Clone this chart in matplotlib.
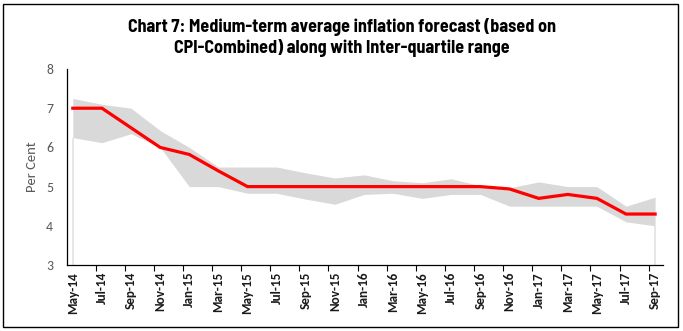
import matplotlib.pyplot as plt
from matplotlib import font_manager
from matplotlib.patches import Rectangle
from matplotlib.ticker import FixedLocator, NullFormatter

# survey rounds (bi-monthly)
months = ['May-14', 'Jul-14', 'Sep-14', 'Nov-14', 'Jan-15', 'Mar-15', 'May-15',
          'Jul-15', 'Sep-15', 'Nov-15', 'Jan-16', 'Mar-16', 'May-16', 'Jul-16',
          'Sep-16', 'Nov-16', 'Jan-17', 'Mar-17', 'May-17', 'Jul-17', 'Sep-17']

# medium-term average forecast (median)
forecast = [7.0, 7.0, 6.5, 6.0, 5.82, 5.4, 5.0, 5.0, 5.0, 5.0, 5.0,
            5.0, 5.0, 5.0, 5.0, 4.94, 4.7, 4.8, 4.7, 4.3, 4.3]

# inter-quartile range
upper_q = [7.25, 7.1, 7.0, 6.43, 6.0, 5.5, 5.5, 5.5, 5.35, 5.22, 5.3,
           5.15, 5.1, 5.2, 5.02, 4.97, 5.12, 5.0, 5.0, 4.5, 4.73]
lower_q = [6.25, 6.12, 6.35, 6.0, 5.0, 5.0, 4.83, 4.83, 4.68, 4.55, 4.8,
           4.83, 4.7, 4.8, 4.8, 4.5, 4.5, 4.5, 4.5, 4.1, 4.0]

x = list(range(len(months)))

# pick a narrow bold font for the Arial-Narrow look, and a Calibri-like one
have = {f.name for f in font_manager.fontManager.ttflist}
narrow = next((n for n in ['Liberation Sans Narrow', 'Barlow Semi Condensed', 'Liberation Sans']
               if n in have), 'DejaVu Sans')
calib = next((n for n in ['Carlito', 'Lato'] if n in have), 'DejaVu Sans')

fig = plt.figure(figsize=(6.83, 3.31), dpi=100)
ax = fig.add_axes([0.0981, 0.1994, 0.8726, 0.5921])

ax.fill_between(x, lower_q, upper_q, color='#d9d9d9', lw=0)
# faint edges of the area series
ax.vlines([x[0], x[-1]], 3, [lower_q[0], lower_q[-1]], color='#e3e3e3', lw=1.2)
ax.plot(x, forecast, color='#ff0000', lw=2.3, solid_joinstyle='miter')

ax.set_ylim(3, 8)
ax.set_xlim(-0.2, len(months) - 1 + 0.27)
ax.set_yticks([3, 4, 5, 6, 7, 8])
ax.tick_params(axis='y', length=0, labelsize=10, labelcolor='#595959', pad=10)
for lab in ax.get_yticklabels():
    lab.set_fontfamily(calib)

# ticks sit just left of each point, labels centred on the points
ax.xaxis.set_major_locator(FixedLocator([i - 0.22 for i in x]))
ax.xaxis.set_major_formatter(NullFormatter())
ax.xaxis.set_minor_locator(FixedLocator(x))
ax.set_xticklabels(months, minor=True, rotation=90, fontsize=9.5,
                   fontweight='bold', family=[calib, 'DejaVu Sans'], color='#1a1a1a')
ax.tick_params(axis='x', which='major', length=4, width=0.8, direction='out')
ax.tick_params(axis='x', which='minor', length=0, pad=5)

for s in ['top', 'right']:
    ax.spines[s].set_visible(False)
ax.spines['left'].set_linewidth(0.9)
ax.spines['bottom'].set_linewidth(0.9)

ax.set_ylabel('Per Cent', fontsize=10.5, color='#595959', family=calib, labelpad=6)

fig.text(0.5, 0.888, 'Chart 7: Medium-term average inflation forecast (based on\n'
         'CPI-Combined) along with Inter-quartile range', ha='center', va='center',
         fontsize=13, fontweight='bold', linespacing=1.22,
         family=[narrow, 'DejaVu Sans'])

fig.patches.append(Rectangle((3 / 683, 4 / 331), 675 / 683, 323 / 331,
                             transform=fig.transFigure, fill=False,
                             edgecolor='black', lw=1))

fig.savefig('out.png', dpi=100)
